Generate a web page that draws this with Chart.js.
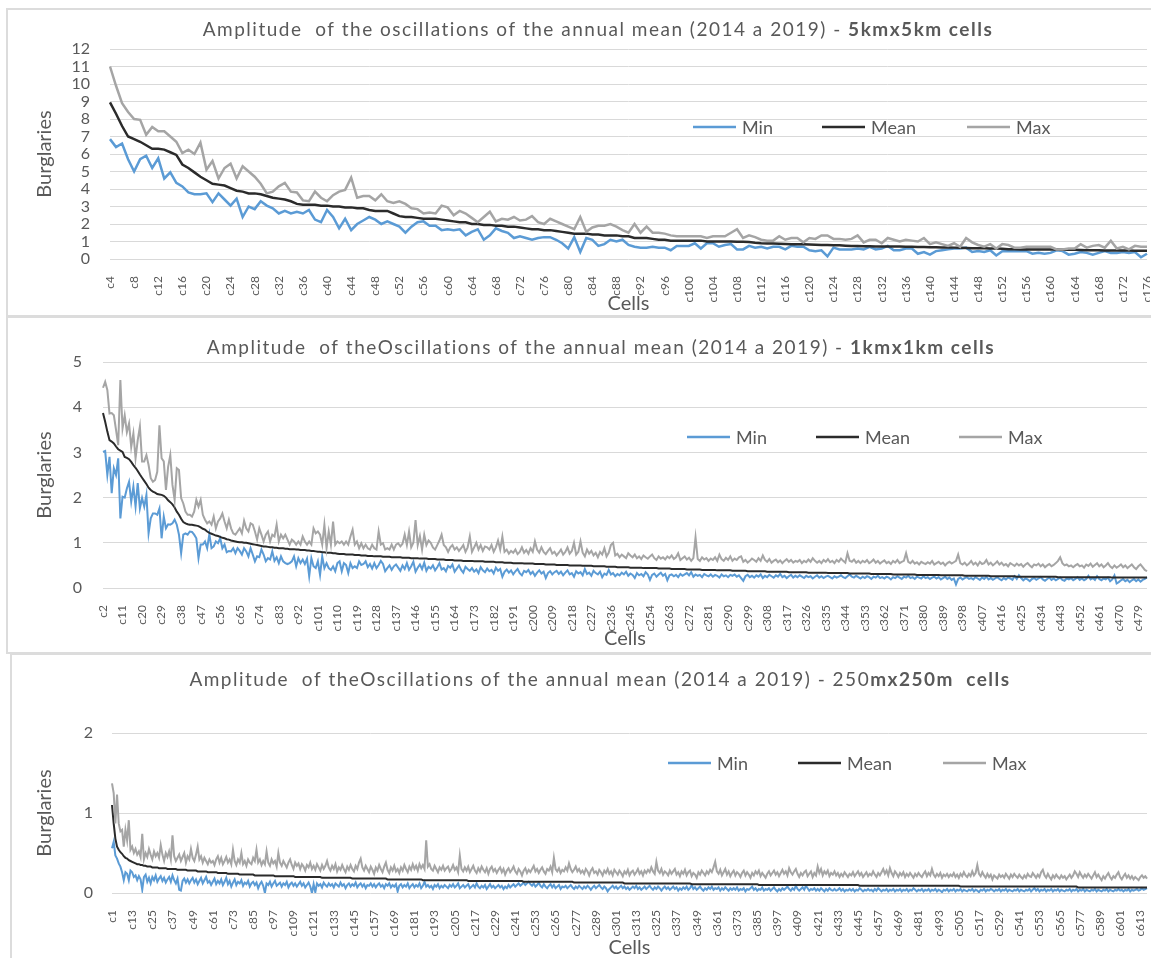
<!DOCTYPE html>
<html>
<head>
<meta charset="utf-8">
<script src="https://cdn.jsdelivr.net/npm/chart.js@4.4.1/dist/chart.umd.min.js"></script>
<style>
  html, body { margin: 0; padding: 0; background: #fff; }
  body { width: 1151px; height: 958px; position: relative; overflow: hidden; }
  .panel { position: absolute; box-sizing: border-box; border: 2px solid #dcdcdc; background: #fff; }
  canvas { position: absolute; }
</style>
</head>
<body>
<div class="panel" style="left:6px; top:8px; width:1150px; height:309px;"></div>
<div class="panel" style="left:6px; top:316px; width:1150px; height:338px;"></div>
<div class="panel" style="left:10px; top:653px; width:1150px; height:340px;"></div>
<canvas id="chart5k" width="1142" height="305" style="left:8px; top:10px;"></canvas>
<canvas id="chart1k" width="1142" height="335" style="left:8px; top:318px;"></canvas>
<canvas id="chart250" width="1138" height="303" style="left:12px; top:655px;"></canvas>
<script>
/* cell names */
const cells5k = Array.from({ length: 173 }, (_, i) => "c" + (i + 4));
const cells1k = Array.from({ length: 482 }, (_, i) => "c" + (i + 2));
const cells250 = Array.from({ length: 617 }, (_, i) => "c" + (i + 1));

/* 5km x 5km cells */
const min5k = [
  6.85, 6.4, 6.6, 5.7, 5.0, 5.7, 5.9, 5.2, 5.75, 4.6,
  4.95, 4.35, 4.15, 3.8, 3.7, 3.7, 3.75, 3.25, 3.75, 3.4,
  3.05, 3.45, 2.4, 3.0, 2.85, 3.3, 3.05, 2.9, 2.6, 2.75,
  2.6, 2.7, 2.6, 2.8, 2.25, 2.1, 2.8, 2.4, 1.75, 2.3,
  1.65, 2.0, 2.2, 2.4, 2.25, 2.0, 2.15, 2.0, 1.85, 1.5,
  1.85, 2.1, 2.15, 1.9, 1.9, 1.65, 1.7, 1.65, 1.7, 1.35,
  1.55, 1.7, 1.1, 1.35, 1.75, 1.6, 1.5, 1.2, 1.3, 1.2,
  1.1, 1.2, 1.25, 1.25, 1.1, 0.9, 0.6, 1.25, 0.4, 1.2,
  1.1, 0.75, 0.85, 1.1, 1.0, 1.1, 0.8, 0.7, 0.65, 0.65,
  0.7, 0.65, 0.65, 0.5, 0.75, 0.75, 0.75, 0.9, 0.6, 0.9,
  0.9, 0.7, 0.8, 0.85, 0.55, 0.55, 0.75, 0.65, 0.7, 0.6,
  0.7, 0.7, 0.55, 0.75, 0.7, 0.7, 0.5, 0.45, 0.5, 0.15,
  0.65, 0.55, 0.55, 0.55, 0.6, 0.55, 0.7, 0.55, 0.6, 0.75,
  0.5, 0.5, 0.6, 0.6, 0.3, 0.4, 0.25, 0.45, 0.5, 0.55,
  0.6, 0.6, 0.65, 0.4, 0.45, 0.4, 0.5, 0.2, 0.45, 0.45,
  0.45, 0.45, 0.45, 0.3, 0.35, 0.3, 0.35, 0.5, 0.45, 0.25,
  0.3, 0.4, 0.35, 0.25, 0.35, 0.45, 0.35, 0.35, 0.4, 0.35,
  0.4, 0.1, 0.3
];
const mean5k = [
  8.95, 8.3, 7.6, 7.0, 6.85, 6.7, 6.5, 6.3, 6.3, 6.25,
  6.1, 5.95, 5.4, 5.2, 4.95, 4.7, 4.5, 4.3, 4.25, 4.2,
  4.05, 3.9, 3.85, 3.75, 3.75, 3.7, 3.6, 3.5, 3.45, 3.4,
  3.3, 3.15, 3.1, 3.1, 3.1, 3.05, 3.05, 3.0, 3.0, 2.95,
  2.95, 2.9, 2.9, 2.8, 2.75, 2.75, 2.75, 2.6, 2.45, 2.4,
  2.4, 2.35, 2.3, 2.3, 2.3, 2.25, 2.2, 2.15, 2.1, 2.1,
  2.0, 2.0, 1.95, 1.95, 1.9, 1.9, 1.85, 1.85, 1.8, 1.75,
  1.7, 1.7, 1.65, 1.65, 1.6, 1.55, 1.5, 1.45, 1.45, 1.45,
  1.4, 1.4, 1.35, 1.35, 1.35, 1.3, 1.3, 1.2, 1.2, 1.2,
  1.15, 1.1, 1.1, 1.05, 1.05, 1.05, 1.05, 1.05, 1.05, 1.0,
  1.0, 1.0, 1.0, 1.0, 0.98, 0.98, 0.97, 0.93, 0.9, 0.89,
  0.88, 0.87, 0.86, 0.85, 0.85, 0.84, 0.83, 0.82, 0.8, 0.8,
  0.79, 0.78, 0.76, 0.74, 0.74, 0.73, 0.73, 0.72, 0.72, 0.72,
  0.71, 0.71, 0.7, 0.7, 0.69, 0.68, 0.67, 0.67, 0.66, 0.66,
  0.65, 0.64, 0.63, 0.62, 0.62, 0.61, 0.6, 0.6, 0.58, 0.56,
  0.56, 0.55, 0.55, 0.55, 0.55, 0.54, 0.54, 0.54, 0.53, 0.53,
  0.53, 0.52, 0.5, 0.5, 0.5, 0.49, 0.49, 0.48, 0.48, 0.48,
  0.47, 0.47, 0.47
];
const max5k = [
  11.0, 9.9, 8.9, 8.4, 8.0, 7.95, 7.1, 7.55, 7.3, 7.3,
  7.0, 6.7, 6.05, 6.25, 6.0, 6.65, 5.1, 5.6, 4.6, 5.2,
  5.45, 4.6, 5.3, 5.0, 4.7, 4.3, 3.75, 3.85, 4.15, 4.35,
  3.85, 3.8, 3.35, 3.3, 3.85, 3.5, 3.3, 3.65, 3.85, 3.95,
  4.65, 3.5, 3.6, 3.6, 3.35, 3.7, 3.3, 3.2, 3.3, 3.15,
  2.9, 2.85, 2.6, 2.65, 2.6, 3.05, 2.95, 2.5, 2.75, 2.6,
  2.35, 2.1, 2.4, 2.7, 2.15, 2.3, 2.25, 2.4, 2.2, 2.25,
  2.45, 2.1, 2.0, 2.3, 2.15, 2.0, 1.85, 1.7, 2.4, 1.55,
  1.8, 1.9, 1.9, 2.0, 1.85, 1.65, 1.5, 2.0, 1.5, 1.85,
  1.5, 1.5, 1.45, 1.35, 1.3, 1.3, 1.3, 1.3, 1.3, 1.2,
  1.3, 1.3, 1.3, 1.5, 1.7, 1.2, 1.35, 1.25, 1.1, 1.05,
  1.05, 1.3, 1.1, 1.2, 1.2, 0.95, 1.2, 1.15, 1.35, 1.35,
  1.15, 1.15, 1.1, 1.15, 1.35, 0.95, 1.1, 1.1, 0.9, 1.2,
  1.1, 1.0, 1.1, 1.05, 1.0, 1.2, 0.85, 0.95, 0.85, 0.75,
  0.9, 0.7, 1.2, 0.95, 0.8, 0.7, 0.85, 0.6, 0.85, 0.8,
  0.65, 0.65, 0.7, 0.7, 0.7, 0.7, 0.7, 0.55, 0.55, 0.6,
  0.6, 0.85, 0.65, 0.75, 0.8, 0.65, 1.05, 0.6, 0.7, 0.55,
  0.75, 0.7, 0.7
];

/* 1km x 1km cells */
const min1k = [
  3.01, 3.03, 2.5, 2.9, 2.1, 2.65, 2.5, 2.87, 1.54, 2.02,
  2.0, 2.2, 2.35, 1.91, 2.24, 1.8, 2.32, 1.76, 1.99, 1.8,
  2.06, 1.21, 1.54, 1.65, 1.65, 1.62, 1.76, 1.1, 1.58, 1.32,
  1.41, 1.4, 1.43, 1.51, 1.4, 1.18, 0.77, 1.18, 1.21, 1.18,
  1.25, 1.24, 1.18, 1.1, 0.66, 0.96, 0.96, 1.03, 0.88, 1.19,
  0.88, 0.92, 1.03, 0.99, 1.1, 0.88, 0.96, 0.79, 0.82, 0.81,
  0.88, 0.77, 0.88, 0.82, 0.74, 0.88, 0.81, 0.7, 0.88, 0.74,
  0.59, 0.7, 0.68, 0.85, 0.74, 0.59, 0.66, 0.63, 0.81, 0.6,
  0.68, 0.55, 0.7, 0.59, 0.55, 0.53, 0.55, 0.59, 0.7, 0.48,
  0.66, 0.55, 0.63, 0.53, 0.65, 0.26, 0.66, 0.48, 0.44, 0.59,
  0.29, 0.7, 0.44, 0.55, 0.44, 0.4, 0.48, 0.37, 0.55, 0.59,
  0.37, 0.55, 0.51, 0.33, 0.55, 0.44, 0.48, 0.44, 0.59, 0.51,
  0.53, 0.59, 0.46, 0.53, 0.43, 0.55, 0.44, 0.51, 0.6, 0.53,
  0.37, 0.44, 0.5, 0.4, 0.48, 0.52, 0.45, 0.38, 0.5, 0.42,
  0.55, 0.4, 0.48, 0.58, 0.36, 0.45, 0.52, 0.42, 0.56, 0.38,
  0.47, 0.43, 0.5, 0.39, 0.46, 0.55, 0.41, 0.44, 0.37, 0.49,
  0.45, 0.52, 0.36, 0.43, 0.5, 0.4, 0.34, 0.47, 0.42, 0.38,
  0.44, 0.36, 0.41, 0.33, 0.46, 0.39, 0.35, 0.43, 0.37, 0.4,
  0.32, 0.45, 0.38, 0.42, 0.25, 0.36, 0.41, 0.34, 0.39, 0.3,
  0.37, 0.42, 0.33, 0.28, 0.38, 0.35, 0.4, 0.31, 0.36, 0.27,
  0.34, 0.39, 0.32, 0.36, 0.22, 0.33, 0.37, 0.3, 0.35, 0.38,
  0.31, 0.36, 0.28, 0.34, 0.39, 0.3, 0.33, 0.25, 0.37, 0.32,
  0.35, 0.28, 0.42, 0.31, 0.34, 0.27, 0.38, 0.33, 0.3, 0.36,
  0.24, 0.32, 0.29, 0.4, 0.3, 0.33, 0.26, 0.31, 0.28, 0.34,
  0.3, 0.36, 0.27, 0.32, 0.29, 0.22, 0.33, 0.28, 0.31, 0.26,
  0.35, 0.3, 0.18, 0.29, 0.32, 0.25, 0.3, 0.34, 0.27, 0.31,
  0.17, 0.28, 0.3, 0.26, 0.29, 0.24, 0.31, 0.27, 0.3, 0.33,
  0.28, 0.35, 0.25, 0.3, 0.27, 0.29, 0.24, 0.31, 0.28, 0.26,
  0.3, 0.25, 0.29, 0.27, 0.23, 0.3, 0.26, 0.28, 0.24, 0.29,
  0.27, 0.3, 0.25, 0.28, 0.22, 0.16, 0.26, 0.29, 0.24, 0.27,
  0.23, 0.28, 0.25, 0.3, 0.22, 0.27, 0.24, 0.29, 0.26, 0.23,
  0.28, 0.25, 0.31, 0.24, 0.27, 0.22, 0.26, 0.29, 0.23, 0.27,
  0.24, 0.28, 0.25, 0.22, 0.27, 0.24, 0.26, 0.21, 0.25, 0.28,
  0.23, 0.26, 0.22, 0.25, 0.27, 0.24, 0.21, 0.26, 0.23, 0.25,
  0.28, 0.24, 0.22, 0.26, 0.3, 0.25, 0.23, 0.27, 0.24, 0.21,
  0.25, 0.22, 0.26, 0.24, 0.2, 0.25, 0.23, 0.27, 0.22, 0.24,
  0.21, 0.25, 0.23, 0.19, 0.24, 0.22, 0.26, 0.23, 0.2, 0.25,
  0.23, 0.27, 0.22, 0.24, 0.2, 0.25, 0.23, 0.21, 0.26, 0.22,
  0.24, 0.2, 0.23, 0.25, 0.21, 0.24, 0.19, 0.22, 0.25, 0.2,
  0.23, 0.18, 0.21, 0.08, 0.2, 0.23, 0.19, 0.22, 0.24, 0.2,
  0.22, 0.19, 0.24, 0.21, 0.18, 0.23, 0.2, 0.25, 0.19, 0.22,
  0.18, 0.21, 0.24, 0.2, 0.17, 0.22, 0.19, 0.23, 0.21, 0.18,
  0.26, 0.2, 0.28, 0.22, 0.17, 0.21, 0.19, 0.15, 0.2, 0.22,
  0.18, 0.21, 0.24, 0.19, 0.16, 0.2, 0.23, 0.18, 0.21, 0.17,
  0.2, 0.23, 0.18, 0.16, 0.21, 0.19, 0.22, 0.17, 0.2, 0.24,
  0.18, 0.21, 0.17, 0.2, 0.27, 0.19, 0.22, 0.18, 0.26, 0.2,
  0.17, 0.21, 0.19, 0.23, 0.15, 0.19, 0.28, 0.1, 0.13, 0.17,
  0.2, 0.15, 0.18, 0.13, 0.17, 0.2, 0.15, 0.19, 0.14, 0.18,
  0.2, 0.24
];
const mean1k = [
  3.87, 3.68, 3.46, 3.27, 3.24, 3.2, 3.13, 3.07, 3.04, 3.01,
  2.9, 2.88, 2.85, 2.79, 2.72, 2.66, 2.59, 2.51, 2.44, 2.37,
  2.3, 2.22, 2.17, 2.13, 2.11, 2.08, 2.07, 2.06, 2.04, 2.0,
  1.94, 1.9, 1.85, 1.78, 1.69, 1.62, 1.53, 1.46, 1.43, 1.41,
  1.4, 1.4, 1.39, 1.38, 1.37, 1.34, 1.31, 1.29, 1.25, 1.22,
  1.2, 1.18, 1.16, 1.15, 1.13, 1.11, 1.1, 1.08, 1.07, 1.05,
  1.04, 1.03, 1.02, 1.01, 1.01, 1.0, 1.0, 0.99, 0.98, 0.97,
  0.96, 0.95, 0.94, 0.93, 0.92, 0.92, 0.91, 0.9, 0.9, 0.89,
  0.89, 0.88, 0.88, 0.88, 0.87, 0.87, 0.86, 0.86, 0.86, 0.85,
  0.85, 0.84, 0.84, 0.84, 0.83, 0.83, 0.82, 0.82, 0.81, 0.8,
  0.8, 0.79, 0.79, 0.78, 0.78, 0.78, 0.77, 0.77, 0.76, 0.75,
  0.75, 0.75, 0.74, 0.74, 0.74, 0.74, 0.73, 0.73, 0.73, 0.72,
  0.72, 0.72, 0.71, 0.71, 0.71, 0.7, 0.7, 0.7, 0.7, 0.69,
  0.69, 0.69, 0.69, 0.68, 0.68, 0.68, 0.68, 0.68, 0.67, 0.67,
  0.67, 0.67, 0.66, 0.66, 0.66, 0.66, 0.65, 0.65, 0.65, 0.65,
  0.64, 0.64, 0.64, 0.64, 0.63, 0.63, 0.63, 0.63, 0.62, 0.62,
  0.62, 0.62, 0.61, 0.61, 0.61, 0.61, 0.6, 0.6, 0.6, 0.6,
  0.6, 0.59, 0.59, 0.59, 0.59, 0.59, 0.58, 0.58, 0.58, 0.58,
  0.58, 0.57, 0.57, 0.57, 0.57, 0.56, 0.56, 0.56, 0.56, 0.55,
  0.55, 0.55, 0.55, 0.55, 0.54, 0.54, 0.54, 0.54, 0.54, 0.53,
  0.53, 0.53, 0.53, 0.53, 0.52, 0.52, 0.52, 0.52, 0.52, 0.51,
  0.51, 0.51, 0.51, 0.51, 0.51, 0.5, 0.5, 0.5, 0.5, 0.5,
  0.5, 0.49, 0.49, 0.49, 0.49, 0.49, 0.48, 0.48, 0.48, 0.48,
  0.48, 0.48, 0.47, 0.47, 0.47, 0.47, 0.47, 0.46, 0.46, 0.46,
  0.46, 0.46, 0.46, 0.45, 0.45, 0.45, 0.45, 0.45, 0.45, 0.44,
  0.44, 0.44, 0.44, 0.44, 0.44, 0.44, 0.43, 0.43, 0.43, 0.43,
  0.43, 0.43, 0.42, 0.42, 0.42, 0.42, 0.42, 0.42, 0.42, 0.41,
  0.41, 0.41, 0.41, 0.41, 0.41, 0.41, 0.4, 0.4, 0.4, 0.4,
  0.4, 0.4, 0.4, 0.39, 0.39, 0.39, 0.39, 0.39, 0.39, 0.39,
  0.38, 0.38, 0.38, 0.38, 0.38, 0.38, 0.38, 0.37, 0.37, 0.37,
  0.37, 0.37, 0.37, 0.37, 0.37, 0.37, 0.36, 0.36, 0.36, 0.36,
  0.36, 0.36, 0.36, 0.36, 0.36, 0.36, 0.35, 0.35, 0.35, 0.35,
  0.35, 0.35, 0.35, 0.35, 0.35, 0.34, 0.34, 0.34, 0.34, 0.34,
  0.34, 0.34, 0.34, 0.34, 0.33, 0.33, 0.33, 0.33, 0.33, 0.33,
  0.33, 0.33, 0.33, 0.33, 0.32, 0.32, 0.32, 0.32, 0.32, 0.32,
  0.32, 0.32, 0.32, 0.32, 0.31, 0.31, 0.31, 0.31, 0.31, 0.31,
  0.31, 0.31, 0.31, 0.31, 0.3, 0.3, 0.3, 0.3, 0.3, 0.3,
  0.3, 0.3, 0.3, 0.3, 0.3, 0.29, 0.29, 0.29, 0.29, 0.29,
  0.29, 0.29, 0.29, 0.29, 0.29, 0.29, 0.28, 0.28, 0.28, 0.28,
  0.28, 0.28, 0.28, 0.28, 0.28, 0.28, 0.28, 0.27, 0.27, 0.27,
  0.27, 0.27, 0.27, 0.27, 0.27, 0.27, 0.27, 0.27, 0.27, 0.26,
  0.26, 0.26, 0.26, 0.26, 0.26, 0.26, 0.26, 0.26, 0.26, 0.26,
  0.26, 0.25, 0.25, 0.25, 0.25, 0.25, 0.25, 0.25, 0.25, 0.25,
  0.25, 0.25, 0.25, 0.25, 0.25, 0.25, 0.25, 0.25, 0.25, 0.25,
  0.24, 0.24, 0.24, 0.24, 0.24, 0.24, 0.24, 0.24, 0.24, 0.24,
  0.24, 0.24, 0.24, 0.24, 0.24, 0.24, 0.24, 0.24, 0.24, 0.24,
  0.24, 0.24, 0.24, 0.24, 0.24, 0.23, 0.23, 0.23, 0.23, 0.23,
  0.23, 0.23, 0.23, 0.23, 0.23, 0.23, 0.23, 0.23, 0.23, 0.23,
  0.23, 0.23
];
const max1k = [
  4.43, 4.56, 4.38, 3.86, 3.87, 3.82, 3.5, 3.16, 4.6, 3.53,
  3.82, 3.45, 3.64, 3.12, 3.42, 2.87, 3.27, 3.57, 2.8, 2.8,
  2.94, 2.72, 2.43, 2.35, 2.39, 2.57, 3.6, 2.87, 2.8, 2.17,
  2.68, 2.94, 2.28, 1.95, 2.65, 2.61, 1.99, 1.87, 1.69, 1.62,
  1.62, 1.58, 1.69, 1.95, 1.8, 1.95, 1.62, 1.51, 1.43, 1.47,
  1.4, 1.58, 1.32, 1.47, 1.54, 1.65, 1.47, 1.32, 1.51, 1.32,
  1.21, 1.18, 1.25, 1.32, 1.21, 1.49, 1.32, 1.25, 1.43, 1.4,
  1.25, 1.07, 1.32, 1.18, 1.03, 1.18, 1.25, 1.03, 1.18, 1.14,
  1.4, 1.03, 1.18, 1.1, 1.18, 1.07, 0.96, 1.07, 1.03, 0.96,
  1.03, 0.96, 1.14, 1.03, 0.96, 1.03, 0.96, 1.32, 1.21, 1.25,
  1.18, 0.96, 1.4, 0.88, 1.25, 0.96, 1.47, 0.96, 1.03, 0.99,
  1.03, 0.96, 1.03, 0.96, 1.14, 1.29, 0.96, 1.03, 0.88, 0.99,
  0.88, 0.96, 0.88, 0.85, 0.96, 0.88, 0.85, 1.25, 0.96, 0.99,
  0.85, 0.88, 0.85, 0.96, 0.85, 0.96, 0.99, 0.92, 0.98, 1.18,
  0.95, 1.25, 0.9, 1.0, 1.5, 0.95, 1.15, 0.85, 1.18, 0.95,
  1.05, 1.0, 0.9, 0.85, 0.95, 1.05, 1.18, 0.95, 0.9, 0.8,
  0.9, 0.95, 0.85, 0.9, 0.82, 0.88, 0.95, 0.8, 0.9, 1.14,
  0.8, 0.9, 1.0, 0.85, 0.95, 0.82, 0.92, 0.9, 0.85, 0.95,
  0.8, 0.9, 1.05, 0.85, 1.14, 0.8, 0.85, 0.76, 0.82, 0.78,
  0.85, 0.75, 0.8, 0.9, 0.78, 0.84, 0.76, 0.88, 0.8, 1.03,
  0.85, 0.78, 0.9, 0.8, 0.75, 0.82, 0.88, 0.76, 0.8, 0.72,
  0.78, 0.85, 0.74, 0.8, 0.9, 0.76, 0.82, 1.0, 0.74, 0.8,
  1.03, 0.78, 0.7, 0.85, 0.76, 0.82, 0.72, 0.78, 0.68, 0.8,
  0.74, 0.88, 0.7, 0.78, 0.95, 1.0, 0.72, 0.76, 0.68, 0.74,
  0.7, 0.66, 0.77, 0.72, 0.68, 0.74, 0.66, 0.7, 0.64, 0.72,
  0.68, 0.65, 0.7, 0.74, 0.66, 0.62, 0.7, 0.65, 0.68, 0.63,
  0.7, 0.66, 0.72, 0.64, 0.68, 0.77, 0.62, 0.66, 0.7, 0.63,
  0.67, 0.6, 0.66, 1.12, 0.64, 0.6, 0.68, 0.63, 0.66, 0.6,
  0.65, 0.62, 0.68, 0.6, 0.74, 0.64, 0.6, 0.67, 0.62, 0.7,
  0.6, 0.65, 0.62, 0.68, 0.7, 0.58, 0.62, 0.56, 0.6, 0.65,
  0.62, 0.58, 0.66, 0.6, 0.72, 0.62, 0.58, 0.64, 0.56, 0.6,
  0.63, 0.57, 0.61, 0.55, 0.6, 0.64, 0.58, 0.62, 0.56, 0.6,
  0.58, 0.62, 0.55, 0.6, 0.57, 0.63, 0.58, 0.66, 0.6, 0.56,
  0.6, 0.55, 0.62, 0.58, 0.64, 0.57, 0.6, 0.55, 0.62, 0.58,
  0.65, 0.6, 0.56, 0.77, 0.6, 0.58, 0.63, 0.56, 0.6, 0.55,
  0.6, 0.57, 0.62, 0.55, 0.58, 0.63, 0.56, 0.6, 0.54, 0.58,
  0.61, 0.55, 0.58, 0.53, 0.6, 0.56, 0.62, 0.55, 0.58, 0.6,
  0.77, 0.58, 0.55, 0.6, 0.54, 0.57, 0.52, 0.58, 0.55, 0.53,
  0.57, 0.54, 0.6, 0.52, 0.55, 0.58, 0.53, 0.56, 0.5, 0.55,
  0.58, 0.54, 0.57, 0.6, 0.74, 0.55, 0.52, 0.56, 0.5, 0.54,
  0.6, 0.52, 0.56, 0.5, 0.58, 0.53, 0.55, 0.62, 0.52, 0.56,
  0.5, 0.54, 0.59, 0.52, 0.56, 0.5, 0.53, 0.48, 0.55, 0.52,
  0.49, 0.54, 0.5, 0.53, 0.47, 0.52, 0.55, 0.5, 0.46, 0.52,
  0.5, 0.54, 0.48, 0.52, 0.46, 0.5, 0.53, 0.48, 0.51, 0.55,
  0.6, 0.68, 0.55, 0.5, 0.52, 0.48, 0.5, 0.46, 0.5, 0.53,
  0.48, 0.5, 0.45, 0.52, 0.49, 0.54, 0.47, 0.51, 0.55, 0.48,
  0.52, 0.46, 0.5, 0.55, 0.48, 0.44, 0.5, 0.45, 0.48, 0.52,
  0.46, 0.5, 0.44, 0.48, 0.52, 0.46, 0.42, 0.48, 0.52, 0.46,
  0.4, 0.37
];

/* 250m x 250m cells */
const min250 = [
  0.56, 0.64, 0.47, 0.43, 0.37, 0.33, 0.26, 0.16, 0.26, 0.24,
  0.16, 0.28, 0.26, 0.2, 0.22, 0.16, 0.21, 0.17, 0.04, 0.2,
  0.23, 0.14, 0.19, 0.12, 0.2, 0.16, 0.22, 0.14, 0.18, 0.21,
  0.15, 0.19, 0.13, 0.17, 0.2, 0.14, 0.22, 0.16, 0.12, 0.18,
  0.04, 0.03, 0.15, 0.18, 0.13, 0.17, 0.12, 0.16, 0.19, 0.13,
  0.17, 0.11, 0.15, 0.19, 0.12, 0.16, 0.2, 0.13, 0.15, 0.1,
  0.14, 0.18, 0.11, 0.15, 0.12, 0.17, 0.1, 0.14, 0.19, 0.11,
  0.15, 0.08, 0.13, 0.17, 0.1, 0.14, 0.12, 0.16, 0.09, 0.13,
  0.11, 0.15, 0.08, 0.12, 0.14, 0.1, 0.13, 0.06, 0.11, 0.14,
  0.09, 0.0, 0.12, 0.1, 0.14, 0.08, 0.12, 0.15, 0.09, 0.11,
  0.13, 0.08, 0.12, 0.1, 0.14, 0.07, 0.11, 0.13, 0.09, 0.12,
  0.08, 0.11, 0.14, 0.09, 0.12, 0.07, 0.1, 0.13, 0.08, 0.0,
  0.11, 0.01, 0.12, 0.09, 0.11, 0.07, 0.13, 0.1, 0.08, 0.12,
  0.09, 0.11, 0.07, 0.12, 0.1, 0.08, 0.13, 0.09, 0.11, 0.06,
  0.1, 0.12, 0.08, 0.11, 0.09, 0.13, 0.07, 0.1, 0.12, 0.08,
  0.11, 0.06, 0.1, 0.09, 0.12, 0.08, 0.11, 0.07, 0.1, 0.12,
  0.08, 0.1, 0.06, 0.11, 0.09, 0.12, 0.07, 0.1, 0.08, 0.11,
  0.02, 0.09, 0.11, 0.07, 0.1, 0.08, 0.12, 0.06, 0.09, 0.11,
  0.07, 0.1, 0.08, 0.12, 0.06, 0.09, 0.14, 0.08, 0.1, 0.07,
  0.09, 0.05, 0.1, 0.08, 0.11, 0.06, 0.09, 0.07, 0.1, 0.08,
  0.06, 0.1, 0.08, 0.11, 0.07, 0.09, 0.12, 0.06, 0.08, 0.1,
  0.07, 0.09, 0.11, 0.06, 0.08, 0.1, 0.07, 0.12, 0.08, 0.06,
  0.09, 0.07, 0.1, 0.05, 0.08, 0.11, 0.07, 0.09, 0.06, 0.08,
  0.1, 0.07, 0.09, 0.05, 0.08, 0.06, 0.1, 0.07, 0.09, 0.11,
  0.08, 0.1, 0.12, 0.09, 0.11, 0.13, 0.1, 0.12, 0.14, 0.11,
  0.09, 0.12, 0.08, 0.1, 0.13, 0.09, 0.07, 0.11, 0.08, 0.06,
  0.09, 0.11, 0.07, 0.1, 0.06, 0.08, 0.1, 0.05, 0.08, 0.07,
  0.09, 0.06, 0.08, 0.1, 0.07, 0.05, 0.08, 0.06, 0.09, 0.07,
  0.05, 0.08, 0.06, 0.09, 0.07, 0.04, 0.07, 0.09, 0.06, 0.08,
  0.1, 0.07, 0.05, 0.08, 0.06, 0.02, 0.05, 0.07, 0.09, 0.06,
  0.08, 0.05, 0.07, 0.09, 0.06, 0.08, 0.05, 0.07, 0.04, 0.06,
  0.08, 0.06, 0.09, 0.05, 0.07, 0.04, 0.06, 0.08, 0.05, 0.07,
  0.09, 0.06, 0.04, 0.07, 0.05, 0.08, 0.06, 0.03, 0.06, 0.08,
  0.05, 0.07, 0.04, 0.06, 0.08, 0.05, 0.07, 0.03, 0.06, 0.04,
  0.07, 0.05, 0.08, 0.04, 0.06, 0.1, 0.05, 0.07, 0.04, 0.06,
  0.08, 0.05, 0.03, 0.06, 0.04, 0.07, 0.05, 0.08, 0.04, 0.06,
  0.05, 0.07, 0.03, 0.06, 0.04, 0.07, 0.05, 0.03, 0.06, 0.04,
  0.06, 0.04, 0.07, 0.03, 0.05, 0.04, 0.06, 0.02, 0.05, 0.04,
  0.06, 0.08, 0.04, 0.06, 0.03, 0.05, 0.04, 0.07, 0.03, 0.05,
  0.04, 0.06, 0.03, 0.05, 0.07, 0.04, 0.02, 0.05, 0.03, 0.06,
  0.04, 0.06, 0.08, 0.05, 0.03, 0.06, 0.04, 0.09, 0.05, 0.03,
  0.05, 0.07, 0.04, 0.09, 0.06, 0.03, 0.05, 0.04, 0.06, 0.03,
  0.05, 0.03, 0.06, 0.04, 0.02, 0.05, 0.03, 0.06, 0.04, 0.03,
  0.05, 0.03, 0.04, 0.06, 0.03, 0.05, 0.02, 0.04, 0.03, 0.05,
  0.03, 0.05, 0.02, 0.04, 0.03, 0.06, 0.04, 0.02, 0.04, 0.03,
  0.05, 0.03, 0.04, 0.02, 0.05, 0.03, 0.06, 0.04, 0.02, 0.04,
  0.03, 0.05, 0.02, 0.04, 0.03, 0.05, 0.02, 0.04, 0.03, 0.05,
  0.02, 0.04, 0.03, 0.05, 0.02, 0.04, 0.03, 0.06, 0.04, 0.02,
  0.04, 0.03, 0.05, 0.02, 0.04, 0.03, 0.05, 0.02, 0.04, 0.03,
  0.05, 0.02, 0.04, 0.03, 0.01, 0.04, 0.03, 0.05, 0.02, 0.04,
  0.03, 0.05, 0.02, 0.04, 0.03, 0.05, 0.02, 0.04, 0.03, 0.02,
  0.04, 0.03, 0.05, 0.02, 0.04, 0.03, 0.01, 0.04, 0.03, 0.05,
  0.02, 0.04, 0.03, 0.05, 0.04, 0.02, 0.04, 0.03, 0.05, 0.02,
  0.04, 0.03, 0.05, 0.02, 0.04, 0.03, 0.02, 0.04, 0.03, 0.05,
  0.02, 0.04, 0.03, 0.02, 0.04, 0.03, 0.05, 0.02, 0.04, 0.06,
  0.03, 0.05, 0.02, 0.04, 0.03, 0.05, 0.02, 0.04, 0.03, 0.05,
  0.02, 0.04, 0.03, 0.05, 0.02, 0.04, 0.03, 0.02, 0.04, 0.03,
  0.05, 0.02, 0.04, 0.03, 0.05, 0.02, 0.04, 0.03, 0.05, 0.02,
  0.04, 0.03, 0.02, 0.04, 0.03, 0.05, 0.02, 0.04, 0.03, 0.02,
  0.04, 0.03, 0.05, 0.02, 0.04, 0.03, 0.02, 0.04, 0.03, 0.05,
  0.03, 0.04, 0.02, 0.04, 0.03, 0.05, 0.02, 0.04, 0.03, 0.04,
  0.05, 0.03, 0.04, 0.06, 0.04, 0.05, 0.06
];
const mean250 = [
  1.1, 0.87, 0.68, 0.58, 0.54, 0.51, 0.49, 0.46, 0.44, 0.43,
  0.41, 0.4, 0.39, 0.38, 0.37, 0.36, 0.36, 0.35, 0.35, 0.34,
  0.34, 0.33, 0.33, 0.33, 0.32, 0.32, 0.32, 0.32, 0.31, 0.31,
  0.31, 0.31, 0.31, 0.3, 0.3, 0.3, 0.3, 0.3, 0.3, 0.29,
  0.29, 0.29, 0.29, 0.29, 0.29, 0.28, 0.28, 0.28, 0.28, 0.28,
  0.28, 0.27, 0.27, 0.27, 0.27, 0.27, 0.27, 0.26, 0.26, 0.26,
  0.26, 0.26, 0.26, 0.25, 0.25, 0.25, 0.25, 0.25, 0.25, 0.24,
  0.24, 0.24, 0.24, 0.24, 0.24, 0.24, 0.23, 0.23, 0.23, 0.23,
  0.23, 0.23, 0.23, 0.23, 0.23, 0.22, 0.22, 0.22, 0.22, 0.22,
  0.22, 0.22, 0.22, 0.22, 0.22, 0.22, 0.22, 0.21, 0.21, 0.21,
  0.21, 0.21, 0.21, 0.21, 0.21, 0.21, 0.21, 0.21, 0.21, 0.2,
  0.2, 0.2, 0.2, 0.2, 0.2, 0.2, 0.2, 0.2, 0.2, 0.2,
  0.2, 0.2, 0.2, 0.2, 0.2, 0.19, 0.19, 0.19, 0.19, 0.19,
  0.19, 0.19, 0.19, 0.19, 0.19, 0.19, 0.19, 0.19, 0.19, 0.19,
  0.19, 0.19, 0.19, 0.18, 0.18, 0.18, 0.18, 0.18, 0.18, 0.18,
  0.18, 0.18, 0.18, 0.18, 0.18, 0.18, 0.18, 0.18, 0.18, 0.18,
  0.18, 0.18, 0.18, 0.18, 0.17, 0.17, 0.17, 0.17, 0.17, 0.17,
  0.17, 0.17, 0.17, 0.17, 0.17, 0.17, 0.17, 0.17, 0.17, 0.17,
  0.17, 0.17, 0.17, 0.17, 0.17, 0.16, 0.16, 0.16, 0.16, 0.16,
  0.16, 0.16, 0.16, 0.16, 0.16, 0.16, 0.16, 0.16, 0.16, 0.16,
  0.16, 0.16, 0.16, 0.16, 0.16, 0.16, 0.16, 0.16, 0.16, 0.16,
  0.16, 0.16, 0.15, 0.15, 0.15, 0.15, 0.15, 0.15, 0.15, 0.15,
  0.15, 0.15, 0.15, 0.15, 0.15, 0.15, 0.15, 0.15, 0.15, 0.15,
  0.15, 0.15, 0.15, 0.15, 0.15, 0.15, 0.15, 0.15, 0.15, 0.15,
  0.15, 0.15, 0.15, 0.15, 0.15, 0.14, 0.14, 0.14, 0.14, 0.14,
  0.14, 0.14, 0.14, 0.14, 0.14, 0.14, 0.14, 0.14, 0.14, 0.14,
  0.14, 0.14, 0.14, 0.14, 0.14, 0.14, 0.14, 0.14, 0.14, 0.14,
  0.14, 0.14, 0.14, 0.14, 0.14, 0.13, 0.13, 0.13, 0.13, 0.13,
  0.13, 0.13, 0.13, 0.13, 0.13, 0.13, 0.13, 0.13, 0.13, 0.13,
  0.13, 0.13, 0.13, 0.13, 0.13, 0.13, 0.13, 0.13, 0.13, 0.13,
  0.13, 0.13, 0.13, 0.13, 0.13, 0.12, 0.12, 0.12, 0.12, 0.12,
  0.12, 0.12, 0.12, 0.12, 0.12, 0.12, 0.12, 0.12, 0.12, 0.12,
  0.12, 0.12, 0.12, 0.12, 0.12, 0.12, 0.12, 0.12, 0.12, 0.12,
  0.12, 0.12, 0.12, 0.12, 0.12, 0.12, 0.12, 0.12, 0.12, 0.12,
  0.12, 0.12, 0.12, 0.12, 0.12, 0.11, 0.11, 0.11, 0.11, 0.11,
  0.11, 0.11, 0.11, 0.11, 0.11, 0.11, 0.11, 0.11, 0.11, 0.11,
  0.11, 0.11, 0.11, 0.11, 0.11, 0.11, 0.11, 0.11, 0.11, 0.11,
  0.11, 0.11, 0.11, 0.11, 0.11, 0.11, 0.11, 0.11, 0.11, 0.11,
  0.11, 0.11, 0.11, 0.11, 0.11, 0.1, 0.1, 0.1, 0.1, 0.1,
  0.1, 0.1, 0.1, 0.1, 0.1, 0.1, 0.1, 0.1, 0.1, 0.1,
  0.1, 0.1, 0.1, 0.1, 0.1, 0.1, 0.1, 0.1, 0.1, 0.1,
  0.1, 0.1, 0.1, 0.1, 0.1, 0.1, 0.1, 0.1, 0.1, 0.1,
  0.1, 0.1, 0.1, 0.1, 0.1, 0.1, 0.1, 0.1, 0.1, 0.1,
  0.1, 0.1, 0.1, 0.1, 0.1, 0.1, 0.1, 0.1, 0.1, 0.1,
  0.1, 0.1, 0.1, 0.1, 0.1, 0.09, 0.09, 0.09, 0.09, 0.09,
  0.09, 0.09, 0.09, 0.09, 0.09, 0.09, 0.09, 0.09, 0.09, 0.09,
  0.09, 0.09, 0.09, 0.09, 0.09, 0.09, 0.09, 0.09, 0.09, 0.09,
  0.09, 0.09, 0.09, 0.09, 0.09, 0.09, 0.09, 0.09, 0.09, 0.09,
  0.09, 0.09, 0.09, 0.09, 0.09, 0.09, 0.09, 0.09, 0.09, 0.09,
  0.09, 0.09, 0.09, 0.09, 0.09, 0.09, 0.09, 0.09, 0.09, 0.09,
  0.09, 0.09, 0.09, 0.09, 0.09, 0.08, 0.08, 0.08, 0.08, 0.08,
  0.08, 0.08, 0.08, 0.08, 0.08, 0.08, 0.08, 0.08, 0.08, 0.08,
  0.08, 0.08, 0.08, 0.08, 0.08, 0.08, 0.08, 0.08, 0.08, 0.08,
  0.08, 0.08, 0.08, 0.08, 0.08, 0.08, 0.08, 0.08, 0.08, 0.08,
  0.08, 0.08, 0.08, 0.08, 0.08, 0.08, 0.08, 0.08, 0.08, 0.08,
  0.08, 0.08, 0.08, 0.08, 0.08, 0.08, 0.08, 0.08, 0.08, 0.08,
  0.08, 0.08, 0.08, 0.08, 0.08, 0.08, 0.08, 0.08, 0.08, 0.08,
  0.08, 0.08, 0.08, 0.08, 0.08, 0.07, 0.07, 0.07, 0.07, 0.07,
  0.07, 0.07, 0.07, 0.07, 0.07, 0.07, 0.07, 0.07, 0.07, 0.07,
  0.07, 0.07, 0.07, 0.07, 0.07, 0.07, 0.07, 0.07, 0.07, 0.07,
  0.07, 0.07, 0.07, 0.07, 0.07, 0.07, 0.07, 0.07, 0.07, 0.07,
  0.07, 0.07, 0.07, 0.07, 0.07, 0.07, 0.07
];
const max250 = [
  1.37, 1.25, 0.87, 1.23, 0.87, 0.77, 0.79, 0.58, 0.79, 0.66,
  0.91, 0.54, 0.58, 0.5, 0.55, 0.48, 0.52, 0.45, 0.74, 0.42,
  0.5, 0.45, 0.55, 0.48, 0.42, 0.52, 0.46, 0.5, 0.44, 0.6,
  0.48, 0.4, 0.5, 0.45, 0.52, 0.42, 0.72, 0.46, 0.4, 0.44,
  0.48, 0.4, 0.45, 0.5, 0.38, 0.46, 0.42, 0.55, 0.44, 0.4,
  0.48, 0.58, 0.42, 0.46, 0.38, 0.44, 0.4, 0.36, 0.42, 0.38,
  0.4, 0.35, 0.42, 0.46, 0.38, 0.44, 0.36, 0.4, 0.45, 0.38,
  0.42, 0.36, 0.54, 0.4, 0.35, 0.42, 0.38, 0.5, 0.36, 0.4,
  0.34, 0.42, 0.38, 0.36, 0.44, 0.4, 0.54, 0.38, 0.42, 0.35,
  0.4, 0.36, 0.52, 0.38, 0.34, 0.42, 0.37, 0.4, 0.33, 0.5,
  0.38, 0.34, 0.4, 0.36, 0.32, 0.38, 0.42, 0.35, 0.3, 0.38,
  0.34, 0.37, 0.3, 0.36, 0.33, 0.28, 0.35, 0.32, 0.38, 0.3,
  0.34, 0.29, 0.36, 0.32, 0.28, 0.35, 0.3, 0.34, 0.4, 0.32,
  0.28, 0.34, 0.3, 0.36, 0.27, 0.32, 0.29, 0.35, 0.3, 0.26,
  0.33, 0.29, 0.35, 0.3, 0.27, 0.34, 0.3, 0.38, 0.43, 0.32,
  0.28, 0.34, 0.3, 0.26, 0.33, 0.29, 0.24, 0.32, 0.28, 0.35,
  0.3, 0.26, 0.33, 0.38, 0.29, 0.25, 0.32, 0.28, 0.34, 0.27,
  0.3, 0.25, 0.32, 0.28, 0.35, 0.3, 0.26, 0.33, 0.29, 0.36,
  0.3, 0.34, 0.28, 0.36, 0.31, 0.35, 0.3, 0.66, 0.33, 0.36,
  0.3, 0.28, 0.34, 0.3, 0.26, 0.32, 0.29, 0.34, 0.28, 0.31,
  0.33, 0.27, 0.3, 0.35, 0.29, 0.32, 0.26, 0.47, 0.3, 0.27,
  0.32, 0.28, 0.33, 0.26, 0.3, 0.34, 0.28, 0.25, 0.31, 0.27,
  0.33, 0.29, 0.26, 0.31, 0.24, 0.3, 0.33, 0.27, 0.3, 0.25,
  0.29, 0.32, 0.26, 0.3, 0.23, 0.28, 0.31, 0.26, 0.29, 0.33,
  0.27, 0.24, 0.3, 0.27, 0.22, 0.28, 0.31, 0.25, 0.29, 0.26,
  0.3, 0.34, 0.27, 0.3, 0.25, 0.29, 0.32, 0.27, 0.24, 0.3,
  0.28, 0.33, 0.26, 0.44, 0.3, 0.27, 0.31, 0.25, 0.29, 0.27,
  0.32, 0.28, 0.37, 0.3, 0.26, 0.29, 0.33, 0.27, 0.3, 0.25,
  0.28, 0.24, 0.3, 0.27, 0.22, 0.28, 0.31, 0.25, 0.27, 0.23,
  0.29, 0.26, 0.22, 0.28, 0.25, 0.3, 0.24, 0.27, 0.22, 0.29,
  0.26, 0.23, 0.28, 0.25, 0.21, 0.27, 0.24, 0.29, 0.22, 0.26,
  0.28, 0.23, 0.26, 0.3, 0.24, 0.27, 0.22, 0.28, 0.25, 0.29,
  0.26, 0.32, 0.27, 0.24, 0.39, 0.28, 0.25, 0.3, 0.23, 0.27,
  0.25, 0.22, 0.28, 0.24, 0.27, 0.3, 0.23, 0.26, 0.21, 0.27,
  0.24, 0.29, 0.22, 0.26, 0.28, 0.21, 0.25, 0.23, 0.19, 0.26,
  0.23, 0.28, 0.25, 0.22, 0.27, 0.24, 0.29, 0.26, 0.32, 0.39,
  0.27, 0.24, 0.29, 0.22, 0.26, 0.3, 0.23, 0.27, 0.21, 0.25,
  0.28, 0.22, 0.26, 0.24, 0.2, 0.25, 0.28, 0.22, 0.26, 0.23,
  0.19, 0.25, 0.22, 0.27, 0.24, 0.28, 0.21, 0.25, 0.22, 0.19,
  0.24, 0.27, 0.22, 0.25, 0.28, 0.23, 0.26, 0.21, 0.25, 0.29,
  0.24, 0.27, 0.22, 0.31, 0.26, 0.23, 0.27, 0.3, 0.24, 0.2,
  0.25, 0.22, 0.26, 0.28, 0.21, 0.24, 0.27, 0.2, 0.25, 0.22,
  0.33, 0.25, 0.3, 0.22, 0.27, 0.24, 0.28, 0.21, 0.25, 0.23,
  0.27, 0.22, 0.25, 0.2, 0.24, 0.21, 0.26, 0.23, 0.2, 0.24,
  0.22, 0.26, 0.21, 0.24, 0.27, 0.22, 0.25, 0.2, 0.23, 0.26,
  0.21, 0.24, 0.22, 0.27, 0.23, 0.2, 0.25, 0.22, 0.26, 0.3,
  0.24, 0.28, 0.22, 0.31, 0.25, 0.21, 0.27, 0.24, 0.2, 0.25,
  0.22, 0.26, 0.2, 0.24, 0.21, 0.25, 0.22, 0.19, 0.24, 0.21,
  0.25, 0.22, 0.2, 0.24, 0.27, 0.21, 0.25, 0.22, 0.3, 0.23,
  0.2, 0.24, 0.21, 0.25, 0.19, 0.23, 0.21, 0.24, 0.2, 0.23,
  0.21, 0.25, 0.2, 0.23, 0.19, 0.24, 0.21, 0.26, 0.22, 0.2,
  0.24, 0.21, 0.27, 0.22, 0.25, 0.35, 0.24, 0.21, 0.26, 0.22,
  0.19, 0.24, 0.2, 0.23, 0.17, 0.22, 0.2, 0.18, 0.23, 0.2,
  0.22, 0.19, 0.24, 0.21, 0.18, 0.23, 0.2, 0.24, 0.21, 0.19,
  0.23, 0.2, 0.18, 0.22, 0.19, 0.24, 0.21, 0.2, 0.25, 0.22,
  0.19, 0.23, 0.2, 0.26, 0.29, 0.22, 0.19, 0.24, 0.2, 0.17,
  0.22, 0.19, 0.23, 0.2, 0.18, 0.22, 0.19, 0.21, 0.17, 0.2,
  0.23, 0.19, 0.22, 0.27, 0.24, 0.2, 0.26, 0.22, 0.19, 0.23,
  0.2, 0.24, 0.21, 0.18, 0.22, 0.26, 0.2, 0.23, 0.19, 0.16,
  0.21, 0.18, 0.22, 0.25, 0.2, 0.17, 0.21, 0.19, 0.23, 0.26,
  0.2, 0.17, 0.21, 0.24, 0.19, 0.22, 0.18, 0.21, 0.17, 0.2,
  0.18, 0.16, 0.2, 0.22, 0.19, 0.21, 0.18
];

const TEXT = "#595959";
const FONT = "Lato, 'Open Sans', sans-serif";
const COLORS = { min: "#5b9bd5", mean: "#2b2b2b", max: "#a5a5a5" };

/* title (regular + bold run) and the in-plot legend */
const panelText = {
  id: "panelText",
  afterDraw(chart, args, opts) {
    const ctx = chart.ctx;
    ctx.save();
    ctx.fillStyle = TEXT;
    ctx.textBaseline = "middle";
    ctx.textAlign = "left";
    const reg = "19px " + FONT;
    const bold = "bold 19px " + FONT;
    ctx.letterSpacing = "1.5px";
    ctx.font = reg;
    const w1 = ctx.measureText(opts.title[0]).width;
    ctx.font = bold;
    const w2 = ctx.measureText(opts.title[1]).width;
    const tx = opts.titleX - (w1 + w2) / 2;
    ctx.font = reg;
    ctx.fillText(opts.title[0], tx, opts.titleY);
    ctx.font = bold;
    ctx.fillText(opts.title[1], tx + w1, opts.titleY);
    ctx.letterSpacing = "0px";

    ctx.font = "18px " + FONT;
    chart.data.datasets.forEach((ds, i) => {
      const lx = opts.legendX[i];
      ctx.strokeStyle = ds.borderColor;
      ctx.lineWidth = 2.5;
      ctx.beginPath();
      ctx.moveTo(lx, opts.legendY);
      ctx.lineTo(lx + 43, opts.legendY);
      ctx.stroke();
      ctx.fillText(ds.label, lx + 49, opts.legendY + 1);
    });
    ctx.restore();
  },
};

function displayChart(id, labels, min, mean, max, opt) {
  const series = [
    { label: "Min", data: min, borderColor: COLORS.min, order: 2 },
    { label: "Mean", data: mean, borderColor: COLORS.mean, order: 1 },
    { label: "Max", data: max, borderColor: COLORS.max, order: 0 },
  ].map((d) => ({ ...d, borderWidth: opt.lineWidth, pointRadius: 0, tension: 0, fill: false }));

  return new Chart(document.getElementById(id), {
    type: "line",
    data: { labels: labels, datasets: series },
    plugins: [panelText],
    options: {
      responsive: false,
      animation: false,
      events: [],
      layout: { padding: { top: opt.top, right: opt.right, left: 0, bottom: 0 } },
      plugins: {
        legend: { display: false },
        title: { display: false },
        tooltip: { enabled: false },
        panelText: opt.text,
      },
      scales: {
        x: {
          grid: { display: false },
          border: { display: false },
          title: {
            display: true, text: "Cells", color: TEXT,
            font: { family: FONT, size: 20 }, padding: { top: 0, bottom: opt.cellsPad },
          },
          ticks: {
            autoSkip: false, maxRotation: 90, minRotation: 90, padding: 9,
            color: TEXT, font: { family: FONT, size: 12 },
            callback: function (v, i) {
              return i % opt.step === 0 ? this.getLabelForValue(v) : null;
            },
          },
          afterFit: (s) => { s.height = opt.xHeight; s.paddingLeft = 0; s.paddingRight = 0; },
        },
        y: {
          min: 0, max: opt.yMax,
          grid: { color: "#d9d9d9", lineWidth: 1, drawTicks: false },
          border: { display: false },
          title: {
            display: true, text: "Burglaries", color: TEXT,
            font: { family: FONT, size: 20 }, padding: { top: opt.burgPad, bottom: 0 },
          },
          ticks: {
            stepSize: 1, autoSkip: false, padding: opt.yPad, color: TEXT,
            font: { family: FONT, size: 16 },
          },
          afterFit: (s) => { s.width = opt.yWidth; },
        },
      },
    },
  });
}

displayChart("chart5k", cells5k, min5k, mean5k, max5k, {
  lineWidth: 2.5, top: 39, right: 3, yMax: 12, step: 4,
  xHeight: 56, yWidth: 102, yPad: 20, cellsPad: -1, burgPad: 25,
  text: {
    title: ["Amplitude  of the oscillations of the annual mean (2014 a 2019) - ", "5kmx5km cells"],
    titleX: 590, titleY: 20, legendX: [685, 814, 959], legendY: 117,
  },
});

displayChart("chart1k", cells1k, min1k, mean1k, max1k, {
  lineWidth: 2, top: 44, right: 3, yMax: 5, step: 9,
  xHeight: 65, yWidth: 95, yPad: 21, cellsPad: 2, burgPad: 25,
  text: {
    title: ["Amplitude  of theOscillations of the annual mean (2014 a 2019) - ", "1kmx1km cells"],
    titleX: 593, titleY: 30, legendX: [679, 808, 951], legendY: 119,
  },
});

displayChart("chart250", cells250, min250, mean250, max250, {
  lineWidth: 2, top: 78, right: 3, yMax: 2, step: 12,
  xHeight: 65, yWidth: 100, yPad: 19, cellsPad: -2, burgPad: 21,
  text: {
    title: ["Amplitude  of theOscillations of the annual mean (2014 a 2019) - 250", "mx250m  cells"],
    titleX: 588, titleY: 25, legendX: [656, 786, 931], legendY: 108,
  },
});
</script>
</body>
</html>
